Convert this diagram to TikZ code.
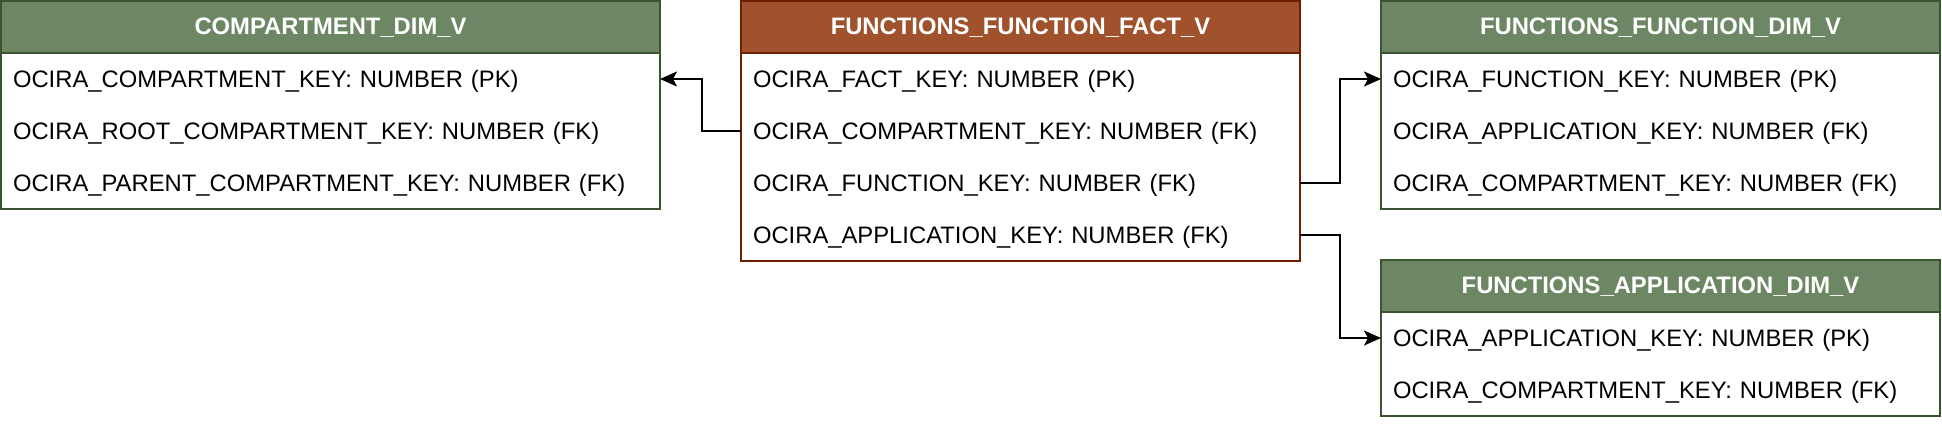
\documentclass[tikz,border=0pt]{standalone}
\usepackage{fontspec}
\setmainfont{Liberation Sans}
\usetikzlibrary{positioning}
\usetikzlibrary{arrows.meta}
\definecolor{dimfill}{HTML}{6D8764}
\definecolor{dimline}{HTML}{3A5431}
\definecolor{factfill}{HTML}{A0522D}
\definecolor{factline}{HTML}{6D1F00}

\begin{document}
\begin{tikzpicture}[x=1pt,y=1pt,>={Stealth[length=17pt,width=15pt,inset=4pt]},line width=2pt,
	font=\fontsize{23.8}{28}\selectfont,
	tblhead/.style={minimum height=52pt,outer sep=0pt,inner sep=0pt,text height=20pt,text depth=5pt,text=white,font=\fontsize{23.8}{28}\selectfont\bfseries},
	dimhead/.style={tblhead,minimum width=#1,draw=dimline,fill=dimfill},
	facthead/.style={tblhead,minimum width=#1,draw=factline,fill=factfill},
	field/.style={text width=#1,minimum height=52pt,inner xsep=12pt,inner ysep=0pt,outer sep=0pt,text height=21pt,text depth=5pt,align=left}]
	\useasboundingbox (0,0) rectangle (1942,-424);

	\node [dimhead=659pt,anchor=north west] at (1,-1) (cd) {COMPARTMENT\_DIM\_V};
	\node [field=635pt,below=0pt of cd] (cd_key) {OCIRA\_COMPARTMENT\_KEY: NUMBER (PK)};
	\node [field=635pt,below=0pt of cd_key] (cd_root) {OCIRA\_ROOT\_COMPARTMENT\_KEY: NUMBER (FK)};
	\node [field=635pt,below=0pt of cd_root] (cd_parent) {OCIRA\_PARENT\_COMPARTMENT\_KEY: NUMBER (FK)};
	\draw [dimline] (cd_key.north west) rectangle (cd_parent.south east);

	\node [facthead=559pt,right=81pt of cd] (ff) {FUNCTIONS\_FUNCTION\_FACT\_V};
	\node [field=535pt,below=0pt of ff] (ff_key) {OCIRA\_FACT\_KEY: NUMBER (PK)};
	\node [field=535pt,below=0pt of ff_key] (ff_comp) {OCIRA\_COMPARTMENT\_KEY: NUMBER (FK)};
	\node [field=535pt,below=0pt of ff_comp] (ff_func) {OCIRA\_FUNCTION\_KEY: NUMBER (FK)};
	\node [field=535pt,below=0pt of ff_func] (ff_app) {OCIRA\_APPLICATION\_KEY: NUMBER (FK)};
	\draw [factline] (ff_key.north west) rectangle (ff_app.south east);

	\node [dimhead=559pt,right=81pt of ff] (fd) {FUNCTIONS\_FUNCTION\_DIM\_V};
	\node [field=535pt,below=0pt of fd] (fd_key) {OCIRA\_FUNCTION\_KEY: NUMBER (PK)};
	\node [field=535pt,below=0pt of fd_key] (fd_app) {OCIRA\_APPLICATION\_KEY: NUMBER (FK)};
	\node [field=535pt,below=0pt of fd_app] (fd_comp) {OCIRA\_COMPARTMENT\_KEY: NUMBER (FK)};
	\draw [dimline] (fd_key.north west) rectangle (fd_comp.south east);

	\node [dimhead=559pt,below=51pt of fd_comp] (ad) {FUNCTIONS\_APPLICATION\_DIM\_V};
	\node [field=535pt,below=0pt of ad] (ad_key) {OCIRA\_APPLICATION\_KEY: NUMBER (PK)};
	\node [field=535pt,below=0pt of ad_key] (ad_comp) {OCIRA\_COMPARTMENT\_KEY: NUMBER (FK)};
	\draw [dimline] (ad_key.north west) rectangle (ad_comp.south east);

	\draw [->] (ff_comp.west) -- ++(-39,0) |- (cd_key.east);
	\draw [->] (ff_func.east) -- ++(40,0) |- (fd_key.west);
	\draw [->] (ff_app.east) -- ++(40,0) |- (ad_key.west);
\end{tikzpicture}
\end{document}
